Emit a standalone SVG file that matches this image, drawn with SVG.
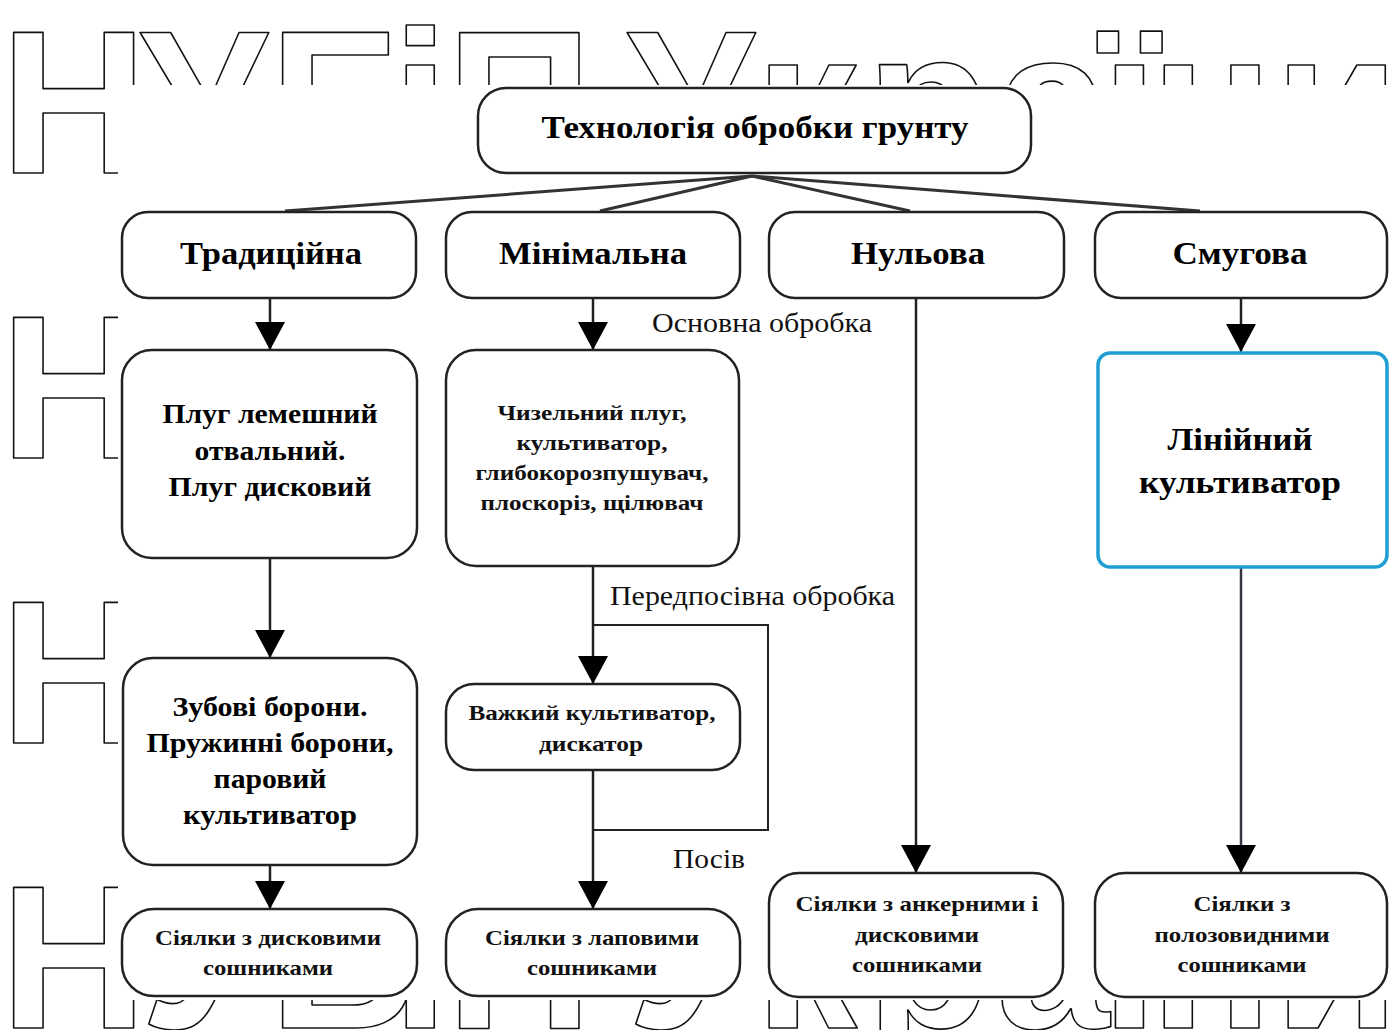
<svg xmlns="http://www.w3.org/2000/svg" width="1389" height="1030" viewBox="0 0 1389 1030">
<defs>
<style>
.wm{font-family:"Liberation Sans",Arial,sans-serif;font-weight:bold;font-size:204px;fill:#fff;stroke:#111;stroke-width:1.6;stroke-linejoin:round}
.box{fill:#fff;stroke:#222;stroke-width:2.5}
.t1{font-family:"Liberation Serif","Times New Roman",serif;font-weight:bold;font-size:32px;fill:#000;text-anchor:middle}
.t2{font-family:"Liberation Serif","Times New Roman",serif;font-weight:bold;font-size:27px;fill:#000;text-anchor:middle}
.t3{font-family:"Liberation Serif","Times New Roman",serif;font-weight:bold;font-size:21px;fill:#111;text-anchor:middle}
.lbl{font-family:"Liberation Serif","Times New Roman",serif;font-size:27px;fill:#111}
.ln{fill:none;stroke:#222;stroke-width:2.5}
.fan{fill:none;stroke:#333;stroke-width:3}
</style>
<marker id="ah" viewBox="0 0 28 30" refX="28" refY="15" markerWidth="28" markerHeight="30" markerUnits="userSpaceOnUse" orient="auto">
<path d="M0,0 L28,15 L0,30 Z" fill="#000"/>
</marker>
</defs>
<rect width="1389" height="1030" fill="#fff"/>
<g id="watermark">
<text class="wm" x="0 140 269 392 446 560 627 755 866 996 1101 1150 1274" y="173">НУБіП України</text>
<text class="wm" x="0" y="458">Н</text>
<text class="wm" x="0" y="743">Н</text>
<text class="wm" x="0 140 269 392 446 560 627 755 866 996 1101 1150 1274" y="1028">НУБіП України</text>
</g>
<rect x="118" y="85" width="1271" height="915" fill="#fff"/>
<g id="connectors">
<line class="fan" x1="752" y1="176" x2="285" y2="211"/>
<line class="fan" x1="752" y1="176" x2="600" y2="211"/>
<line class="fan" x1="752" y1="176" x2="910" y2="211"/>
<line class="fan" x1="752" y1="176" x2="1200" y2="211"/>
<line class="ln" x1="270" y1="298" x2="270" y2="350" marker-end="url(#ah)"/>
<line class="ln" x1="593" y1="298" x2="593" y2="350" marker-end="url(#ah)"/>
<line class="ln" x1="1241" y1="298" x2="1241" y2="352" marker-end="url(#ah)"/>
<line class="ln" x1="916" y1="298" x2="916" y2="873" marker-end="url(#ah)"/>
<line class="ln" x1="270" y1="558" x2="270" y2="658" marker-end="url(#ah)"/>
<line class="ln" x1="270" y1="865" x2="270" y2="909" marker-end="url(#ah)"/>
<line class="ln" x1="593" y1="566" x2="593" y2="684" marker-end="url(#ah)"/>
<line class="ln" x1="593" y1="770" x2="593" y2="909" marker-end="url(#ah)"/>
<polyline class="ln" points="593,625 768,625 768,830 593,830" style="stroke-width:2"/>
<line class="ln" x1="1241" y1="568" x2="1241" y2="873" marker-end="url(#ah)" style="stroke:#3a3344"/>
<text class="lbl" x="652" y="332" textLength="220" lengthAdjust="spacingAndGlyphs">Основна обробка</text>
<text class="lbl" x="610" y="605" textLength="285" lengthAdjust="spacingAndGlyphs">Передпосівна обробка</text>
<text class="lbl" x="673" y="868" textLength="72" lengthAdjust="spacingAndGlyphs">Посів</text>
</g>
<g id="n-root">
<rect class="box" x="478" y="88" width="553" height="85" rx="28"/>
<text class="t1" x="755" y="138" textLength="427" lengthAdjust="spacingAndGlyphs">Технологія обробки грунту</text>
</g>
<g id="n-trad">
<rect class="box" x="122" y="212" width="294" height="86" rx="26"/>
<text class="t1" x="271" y="264" textLength="182" lengthAdjust="spacingAndGlyphs">Традиційна</text>
</g>
<g id="n-min">
<rect class="box" x="446" y="212" width="294" height="86" rx="26"/>
<text class="t1" x="593" y="264" textLength="188" lengthAdjust="spacingAndGlyphs">Мінімальна</text>
</g>
<g id="n-null">
<rect class="box" x="769" y="212" width="295" height="86" rx="26"/>
<text class="t1" x="918" y="264" textLength="134" lengthAdjust="spacingAndGlyphs">Нульова</text>
</g>
<g id="n-smug">
<rect class="box" x="1095" y="212" width="292" height="86" rx="26"/>
<text class="t1" x="1240" y="264" textLength="135" lengthAdjust="spacingAndGlyphs">Смугова</text>
</g>
<g id="n-plug">
<rect class="box" x="122" y="350" width="295" height="208" rx="30"/>
<text class="t2" x="270" y="423" textLength="215" lengthAdjust="spacingAndGlyphs">Плуг лемешний</text>
<text class="t2" x="270" y="460" textLength="151" lengthAdjust="spacingAndGlyphs">отвальний.</text>
<text class="t2" x="270" y="496" textLength="203" lengthAdjust="spacingAndGlyphs">Плуг дисковий</text>
</g>
<g id="n-chisel">
<rect class="box" x="446" y="350" width="293" height="216" rx="30"/>
<text class="t3" x="592" y="420" textLength="189" lengthAdjust="spacingAndGlyphs">Чизельний плуг,</text>
<text class="t3" x="592" y="450" textLength="151" lengthAdjust="spacingAndGlyphs">культиватор,</text>
<text class="t3" x="592" y="480" textLength="233" lengthAdjust="spacingAndGlyphs">глибокорозпушувач,</text>
<text class="t3" x="592" y="510" textLength="223" lengthAdjust="spacingAndGlyphs">плоскоріз, щілювач</text>
</g>
<g id="n-linear">
<rect x="1098" y="353" width="289" height="214" rx="12" fill="#fff" stroke="#1f9fd4" stroke-width="3.5"/>
<text class="t1" x="1240" y="450" textLength="145" lengthAdjust="spacingAndGlyphs">Лінійний</text>
<text class="t1" x="1240" y="493" textLength="202" lengthAdjust="spacingAndGlyphs">культиватор</text>
</g>
<g id="n-harrow">
<rect class="box" x="123" y="658" width="294" height="207" rx="30"/>
<text class="t2" x="270" y="716" textLength="195" lengthAdjust="spacingAndGlyphs">Зубові борони.</text>
<text class="t2" x="270" y="752" textLength="247" lengthAdjust="spacingAndGlyphs">Пружинні борони,</text>
<text class="t2" x="270" y="788" textLength="113" lengthAdjust="spacingAndGlyphs">паровий</text>
<text class="t2" x="270" y="824" textLength="174" lengthAdjust="spacingAndGlyphs">культиватор</text>
</g>
<g id="n-heavy">
<rect class="box" x="446" y="684" width="294" height="86" rx="28"/>
<text class="t3" x="592" y="720" textLength="247" lengthAdjust="spacingAndGlyphs">Важкий культиватор,</text>
<text class="t3" x="591" y="751" textLength="104" lengthAdjust="spacingAndGlyphs">дискатор</text>
</g>
<g id="n-seed-disc">
<rect class="box" x="122" y="909" width="295" height="87" rx="32"/>
<text class="t3" x="268" y="945" textLength="226" lengthAdjust="spacingAndGlyphs">Сіялки з дисковими</text>
<text class="t3" x="268" y="975" textLength="130" lengthAdjust="spacingAndGlyphs">сошниками</text>
</g>
<g id="n-seed-paw">
<rect class="box" x="446" y="909" width="294" height="87" rx="32"/>
<text class="t3" x="592" y="945" textLength="214" lengthAdjust="spacingAndGlyphs">Сіялки з лаповими</text>
<text class="t3" x="592" y="975" textLength="130" lengthAdjust="spacingAndGlyphs">сошниками</text>
</g>
<g id="n-seed-anchor">
<rect class="box" x="769" y="873" width="294" height="124" rx="30"/>
<text class="t3" x="917" y="911" textLength="243" lengthAdjust="spacingAndGlyphs">Сіялки з анкерними і</text>
<text class="t3" x="917" y="942" textLength="124" lengthAdjust="spacingAndGlyphs">дисковими</text>
<text class="t3" x="917" y="972" textLength="130" lengthAdjust="spacingAndGlyphs">сошниками</text>
</g>
<g id="n-seed-runner">
<rect class="box" x="1095" y="873" width="292" height="124" rx="30"/>
<text class="t3" x="1242" y="911" textLength="97" lengthAdjust="spacingAndGlyphs">Сіялки з</text>
<text class="t3" x="1242" y="942" textLength="175" lengthAdjust="spacingAndGlyphs">полозовидними</text>
<text class="t3" x="1242" y="972" textLength="129" lengthAdjust="spacingAndGlyphs">сошниками</text>
</g>
</svg>
